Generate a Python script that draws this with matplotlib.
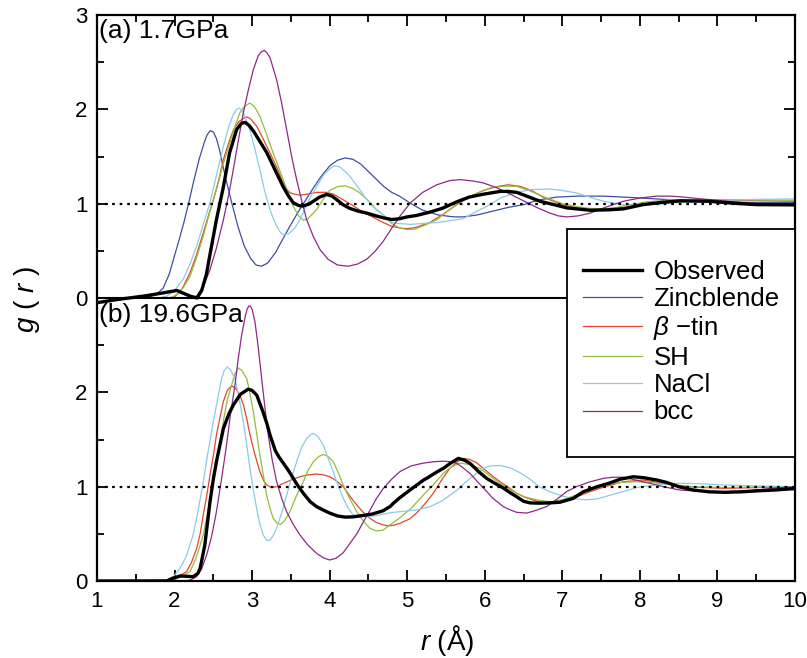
import matplotlib.pyplot as plt
from matplotlib.patches import Rectangle
from matplotlib.ticker import MultipleLocator

plt.rcParams['font.family'] = ['Liberation Sans', 'DejaVu Sans']
plt.rcParams['mathtext.fontset'] = 'custom'
plt.rcParams['mathtext.rm'] = 'Liberation Sans'
plt.rcParams['mathtext.it'] = 'Liberation Sans:italic'

# ---- (a) 1.7 GPa ----
obs_a_r = [1.0, 1.26, 1.6, 1.86, 2.03, 2.2, 2.29, 2.35, 2.41, 2.47, 2.54, 2.63, 2.71, 2.80, 2.86, 2.91,
           2.96, 3.02, 3.10, 3.19, 3.30, 3.40, 3.47, 3.53, 3.60, 3.66, 3.73, 3.79, 3.87, 3.96, 4.03,
           4.09, 4.17, 4.26, 4.37, 4.48, 4.58, 4.69, 4.80, 4.90, 5.0, 5.12, 5.29, 5.45, 5.64, 5.80,
           5.98, 6.2, 6.3, 6.41, 6.54, 6.71, 6.84, 7.06, 7.36, 7.6, 7.79, 8.04, 8.3, 8.52, 8.9, 9.2,
           9.5, 10.0]
obs_a_g = [-0.05, -0.016, 0.02, 0.055, 0.08, 0.02, 0.0, 0.08, 0.25, 0.52, 0.83, 1.18, 1.54, 1.785, 1.85,
           1.862, 1.83, 1.767, 1.66, 1.54, 1.35, 1.18, 1.08, 1.01, 0.98, 0.975, 0.995, 1.026, 1.07,
           1.098, 1.08, 1.043, 0.99, 0.95, 0.92, 0.9, 0.875, 0.85, 0.832, 0.84, 0.86, 0.875, 0.91,
           0.95, 1.02, 1.07, 1.1, 1.13, 1.13, 1.12, 1.08, 1.026, 1.0, 0.955, 0.93, 0.935, 0.945,
           0.99, 1.015, 1.03, 1.025, 1.005, 0.99, 0.987]

zb_a_r = [1.0, 1.5, 1.65, 1.75, 1.85, 1.93, 2.0, 2.06, 2.12, 2.18, 2.25, 2.32, 2.38, 2.42, 2.46, 2.5,
          2.54, 2.58, 2.65, 2.74, 2.82, 2.9, 2.98, 3.05, 3.12, 3.2, 3.3, 3.4, 3.5, 3.6, 3.7, 3.8,
          3.9, 4.0, 4.1, 4.2, 4.3, 4.4, 4.5, 4.6, 4.7, 4.8, 4.9, 5.05, 5.2, 5.4, 5.6, 5.72, 5.9,
          6.1, 6.3, 6.5, 6.7, 6.93, 7.2, 7.53, 7.9, 8.22, 8.6, 9.0, 9.5, 10.0]
zb_a_g = [0.0, 0.0, 0.01, 0.03, 0.1, 0.25, 0.45, 0.62, 0.8, 1.0, 1.25, 1.48, 1.64, 1.73, 1.774, 1.76,
          1.69, 1.57, 1.3, 1.0, 0.75, 0.55, 0.42, 0.35, 0.337, 0.37, 0.48, 0.63, 0.78, 0.92, 1.05,
          1.18, 1.3, 1.4, 1.46, 1.485, 1.47, 1.42, 1.34, 1.26, 1.18, 1.12, 1.08, 1.0, 0.93, 0.88,
          0.86, 0.86, 0.88, 0.92, 0.96, 0.99, 1.04, 1.07, 1.08, 1.08, 1.065, 1.05, 1.03, 1.02,
          1.01, 1.01]

tin_a_r = [1.0, 1.9, 2.0, 2.1, 2.2, 2.28, 2.37, 2.44, 2.5, 2.57, 2.63, 2.7, 2.76, 2.83, 2.9, 2.93, 2.98,
           3.06, 3.14, 3.23, 3.32, 3.4, 3.45, 3.49, 3.55, 3.62, 3.7, 3.83, 3.96, 4.05, 4.17, 4.3,
           4.43, 4.55, 4.69, 4.8, 4.92, 5.0, 5.1, 5.29, 5.45, 5.64, 5.8, 5.98, 6.15, 6.3, 6.45,
           6.6, 6.75, 6.84, 7.0, 7.18, 7.35, 7.53, 7.7, 7.87, 8.1, 8.43, 9.08, 9.5, 10.0]
tin_a_g = [0.0, 0.0, 0.01, 0.1, 0.27, 0.45, 0.69, 0.88, 1.04, 1.25, 1.47, 1.65, 1.785, 1.87, 1.91,
           1.92, 1.9, 1.82, 1.69, 1.54, 1.38, 1.22, 1.15, 1.115, 1.1, 1.09, 1.1, 1.12, 1.12, 1.1,
           1.043, 0.98, 0.91, 0.86, 0.80, 0.76, 0.74, 0.735, 0.745, 0.80, 0.88, 0.99, 1.07, 1.14,
           1.18, 1.2, 1.185, 1.14, 1.07, 1.04, 0.99, 0.955, 0.94, 0.94, 0.95, 0.97, 1.0, 1.03,
           1.04, 1.03, 1.025]

sh_a_r = [1.0, 1.95, 2.05, 2.12, 2.2, 2.28, 2.37, 2.45, 2.54, 2.62, 2.71, 2.78, 2.84, 2.9, 2.97, 3.03,
          3.1, 3.18, 3.27, 3.34, 3.4, 3.47, 3.53, 3.6, 3.66, 3.72, 3.83, 3.92, 4.0, 4.1, 4.2, 4.3,
          4.39, 4.5, 4.6, 4.69, 4.8, 4.9, 5.0, 5.1, 5.25, 5.38, 5.55, 5.72, 5.9, 6.07, 6.25, 6.41,
          6.6, 6.8, 7.0, 7.18, 7.35, 7.53, 7.7, 7.87, 8.1, 8.43, 9.08, 9.5, 10.0]
sh_a_g = [0.0, 0.0, 0.05, 0.12, 0.23, 0.42, 0.655, 0.9, 1.15, 1.4, 1.64, 1.82, 1.96, 2.03, 2.067,
          2.03, 1.926, 1.75, 1.54, 1.39, 1.255, 1.1, 0.973, 0.87, 0.824, 0.84, 0.937, 1.05, 1.14,
          1.18, 1.19, 1.16, 1.114, 1.03, 0.94, 0.88, 0.79, 0.743, 0.725, 0.73, 0.78, 0.83, 0.94,
          1.04, 1.11, 1.167, 1.185, 1.185, 1.13, 1.06, 1.0, 0.97, 0.95, 0.945, 0.96, 0.99, 1.02,
          1.043, 1.043, 1.04, 1.036]

nacl_a_r = [1.0, 1.8, 1.9, 2.0, 2.11, 2.2, 2.285, 2.37, 2.457, 2.54, 2.63, 2.7, 2.76, 2.8, 2.835, 2.87,
            2.9, 2.97, 3.03, 3.1, 3.16, 3.23, 3.3, 3.36, 3.4, 3.47, 3.55, 3.617, 3.7, 3.76, 3.832,
            3.92, 4.0, 4.06, 4.13, 4.2, 4.26, 4.37, 4.48, 4.58, 4.69, 4.8, 4.9, 5.04, 5.2, 5.38,
            5.55, 5.72, 5.85, 6.07, 6.2, 6.41, 6.6, 6.84, 7.0, 7.18, 7.35, 7.53, 7.7, 7.87, 8.1,
            8.43, 9.08, 9.5, 10.0]
nacl_a_g = [0.0, 0.0, 0.02, 0.08, 0.196, 0.36, 0.55, 0.78, 1.01, 1.3, 1.608, 1.82, 1.95, 2.0, 2.014,
            1.99, 1.94, 1.785, 1.6, 1.36, 1.14, 0.937, 0.79, 0.7, 0.672, 0.68, 0.74, 0.83, 0.98,
            1.08, 1.18, 1.3, 1.37, 1.4, 1.39, 1.34, 1.29, 1.17, 1.04, 0.95, 0.88, 0.8, 0.79, 0.78,
            0.79, 0.8, 0.82, 0.84, 0.9, 0.99, 1.06, 1.12, 1.15, 1.155, 1.14, 1.114, 1.07, 1.026,
            1.0, 0.98, 0.99, 1.008, 1.036, 1.045, 1.05]

bcc_a_r = [1.0, 2.1, 2.2, 2.285, 2.37, 2.457, 2.54, 2.63, 2.7, 2.757, 2.82, 2.886, 2.95, 3.015, 3.08,
           3.12, 3.157, 3.19, 3.23, 3.316, 3.38, 3.445, 3.51, 3.574, 3.64, 3.703, 3.79, 3.875, 3.98,
           4.1, 4.24, 4.36, 4.476, 4.58, 4.69, 4.8, 4.906, 5.04, 5.2, 5.38, 5.55, 5.68, 5.85, 5.98,
           6.15, 6.33, 6.5, 6.67, 6.84, 6.95, 7.06, 7.2, 7.36, 7.55, 7.79, 8.0, 8.22, 8.4, 8.56,
           8.8, 9.08, 9.5, 10.0]
bcc_a_g = [0.0, 0.0, 0.005, 0.02, 0.12, 0.3, 0.53, 0.83, 1.1, 1.36, 1.66, 1.96, 2.2, 2.42, 2.57,
           2.61, 2.625, 2.6, 2.55, 2.314, 2.07, 1.785, 1.5, 1.255, 1.03, 0.83, 0.65, 0.514, 0.41,
           0.35, 0.337, 0.36, 0.41, 0.49, 0.6, 0.74, 0.867, 1.008, 1.12, 1.2, 1.245, 1.255, 1.24,
           1.22, 1.17, 1.1, 1.03, 0.96, 0.9, 0.87, 0.86, 0.87, 0.9, 0.96, 1.026, 1.06, 1.08, 1.08,
           1.07, 1.05, 1.03, 1.0, 1.0]

# ---- (b) 19.6 GPa ----
obs_b_r = [1.0, 1.9, 1.98, 2.07, 2.15, 2.24, 2.3, 2.33, 2.39, 2.457, 2.5, 2.54, 2.6, 2.63, 2.7, 2.757,
           2.85, 2.95, 3.0, 3.06, 3.14, 3.19, 3.23, 3.3, 3.35, 3.445, 3.5, 3.574, 3.66, 3.75, 3.832,
           3.918, 4.0, 4.1, 4.2, 4.3, 4.434, 4.55, 4.69, 4.78, 4.82, 4.9, 5.036, 5.21, 5.25, 5.37,
           5.465, 5.56, 5.66, 5.74, 5.81, 5.92, 6.024, 6.1, 6.24, 6.32, 6.41, 6.5, 6.583, 6.7,
           6.84, 6.97, 7.14, 7.27, 7.45, 7.614, 7.75, 7.915, 8.05, 8.22, 8.345, 8.5, 8.69, 8.9,
           9.1, 9.3, 9.5, 9.75, 10.0]
obs_b_g = [0.0, 0.0, 0.03, 0.053, 0.05, 0.046, 0.08, 0.135, 0.38, 0.84, 1.08, 1.265, 1.5, 1.618,
           1.77, 1.865, 1.98, 2.034, 2.02, 1.97, 1.794, 1.67, 1.55, 1.38, 1.31, 1.2, 1.13, 1.03,
           0.93, 0.84, 0.788, 0.752, 0.72, 0.69, 0.677, 0.68, 0.695, 0.71, 0.745, 0.79, 0.823,
           0.88, 0.965, 1.07, 1.088, 1.15, 1.194, 1.25, 1.30, 1.28, 1.247, 1.16, 1.088, 1.05,
           0.985, 0.94, 0.894, 0.845, 0.828, 0.825, 0.828, 0.835, 0.876, 0.946, 1.0, 1.04, 1.08,
           1.105, 1.095, 1.07, 1.045, 1.0, 0.964, 0.945, 0.94, 0.945, 0.955, 0.965, 0.98]

tin_b_r = [1.0, 1.94, 2.05, 2.156, 2.22, 2.285, 2.33, 2.37, 2.42, 2.457, 2.5, 2.54, 2.59, 2.628, 2.68,
           2.736, 2.79, 2.843, 2.89, 2.93, 2.97, 3.015, 3.06, 3.1, 3.15, 3.19, 3.25, 3.32, 3.402,
           3.5, 3.617, 3.72, 3.832, 3.92, 4.0, 4.09, 4.175, 4.26, 4.35, 4.43, 4.52, 4.6, 4.69,
           4.75, 4.82, 4.906, 5.036, 5.12, 5.21, 5.336, 5.45, 5.55, 5.64, 5.724, 5.8, 5.895, 6.0,
           6.11, 6.2, 6.325, 6.41, 6.54, 6.7, 6.84, 7.01, 7.18, 7.356, 7.55, 7.79, 8.04, 8.2,
           8.43, 8.7, 9.08, 9.5, 10.0]
tin_b_g = [0.0, 0.01, 0.05, 0.1, 0.2, 0.346, 0.5, 0.7, 0.93, 1.123, 1.33, 1.547, 1.75, 1.9, 2.02,
           2.07, 2.04, 1.97, 1.86, 1.723, 1.56, 1.406, 1.27, 1.16, 1.06, 1.017, 0.99, 1.0, 1.035,
           1.07, 1.106, 1.125, 1.134, 1.125, 1.106, 1.06, 1.0, 0.9, 0.805, 0.73, 0.664, 0.62,
           0.594, 0.585, 0.59, 0.611, 0.66, 0.72, 0.80, 0.93, 1.08, 1.194, 1.26, 1.30, 1.29,
           1.254, 1.18, 1.106, 1.05, 0.982, 0.93, 0.88, 0.84, 0.83, 0.84, 0.89, 0.947, 1.0, 1.053,
           1.07, 1.05, 1.018, 0.995, 0.982, 0.99, 1.0]

sh_b_r = [1.0, 1.984, 2.1, 2.2, 2.28, 2.37, 2.44, 2.5, 2.56, 2.628, 2.68, 2.736, 2.78, 2.822, 2.87,
          2.93, 2.97, 3.015, 3.06, 3.1, 3.15, 3.187, 3.23, 3.273, 3.32, 3.367, 3.42, 3.488, 3.57,
          3.66, 3.72, 3.79, 3.86, 3.918, 3.98, 4.047, 4.11, 4.175, 4.26, 4.35, 4.43, 4.52, 4.605,
          4.69, 4.777, 4.906, 5.05, 5.208, 5.336, 5.465, 5.57, 5.68, 5.8, 5.938, 6.07, 6.196,
          6.3, 6.41, 6.5, 6.67, 6.84, 7.0, 7.18, 7.37, 7.57, 7.75, 7.96, 8.2, 8.43, 8.7, 9.08,
          9.5, 10.0]
sh_b_g = [0.0, 0.01, 0.05, 0.1, 0.25, 0.487, 0.78, 1.05, 1.35, 1.688, 1.92, 2.077, 2.2, 2.26, 2.23,
          2.147, 2.0, 1.794, 1.56, 1.335, 1.1, 0.911, 0.77, 0.664, 0.615, 0.60, 0.64, 0.735, 0.9,
          1.052, 1.17, 1.264, 1.32, 1.342, 1.32, 1.264, 1.15, 1.017, 0.87, 0.735, 0.64, 0.558,
          0.53, 0.54, 0.594, 0.67, 0.77, 0.91, 1.02, 1.14, 1.21, 1.25, 1.235, 1.194, 1.11, 1.035,
          0.98, 0.93, 0.894, 0.86, 0.84, 0.86, 0.912, 0.97, 1.018, 1.045, 1.053, 1.04, 1.018, 1.0,
          0.99, 0.995, 1.0]

nacl_b_r = [1.0, 1.9, 2.0, 2.07, 2.15, 2.24, 2.3, 2.37, 2.43, 2.5, 2.56, 2.607, 2.64, 2.68, 2.72,
            2.779, 2.83, 2.886, 2.93, 2.972, 3.015, 3.058, 3.1, 3.144, 3.187, 3.23, 3.27, 3.316,
            3.38, 3.445, 3.51, 3.574, 3.64, 3.703, 3.76, 3.79, 3.85, 3.918, 3.98, 4.047, 4.11,
            4.175, 4.24, 4.304, 4.39, 4.476, 4.58, 4.69, 4.8, 4.906, 5.12, 5.3, 5.45, 5.637, 5.77,
            5.895, 6.0, 6.067, 6.2, 6.325, 6.45, 6.583, 6.7, 6.84, 7.0, 7.1, 7.3, 7.45, 7.66, 7.79,
            7.96, 8.22, 8.43, 8.65, 9.08, 9.5, 10.0]
nacl_b_g = [0.0, 0.01, 0.06, 0.134, 0.26, 0.487, 0.73, 1.05, 1.36, 1.688, 1.95, 2.147, 2.23, 2.27,
            2.24, 2.147, 1.95, 1.688, 1.45, 1.194, 0.97, 0.77, 0.6, 0.488, 0.43, 0.43, 0.48, 0.558,
            0.72, 0.911, 1.1, 1.264, 1.42, 1.51, 1.555, 1.565, 1.53, 1.44, 1.3, 1.158, 1.01, 0.876,
            0.77, 0.70, 0.685, 0.682, 0.69, 0.71, 0.725, 0.735, 0.753, 0.79, 0.85, 0.96, 1.06,
            1.14, 1.2, 1.22, 1.225, 1.2, 1.15, 1.08, 1.0, 0.947, 0.9, 0.88, 0.86, 0.87, 0.92, 0.95,
            0.99, 1.02, 1.035, 1.035, 1.018, 1.008, 1.0]

bcc_b_r = [1.0, 2.11, 2.2, 2.285, 2.35, 2.414, 2.48, 2.54, 2.6, 2.67, 2.72, 2.779, 2.82, 2.865, 2.91,
           2.935, 2.959, 2.98, 3.0, 3.037, 3.08, 3.123, 3.165, 3.208, 3.26, 3.316, 3.38, 3.445,
           3.53, 3.617, 3.72, 3.832, 3.92, 4.0, 4.08, 4.175, 4.262, 4.35, 4.45, 4.52, 4.6, 4.69,
           4.8, 4.906, 5.05, 5.208, 5.35, 5.465, 5.55, 5.637, 5.72, 5.81, 5.92, 6.024, 6.1, 6.24,
           6.325, 6.41, 6.54, 6.626, 6.7, 6.8, 6.95, 7.06, 7.18, 7.35, 7.53, 7.65, 7.79, 7.95,
           8.13, 8.3, 8.52, 8.8, 9.08, 9.3, 9.5, 9.75, 10.0]
bcc_b_g = [0.0, 0.0, 0.01, 0.046, 0.13, 0.276, 0.48, 0.735, 1.05, 1.44, 1.76, 2.077, 2.35, 2.606,
           2.8, 2.88, 2.917, 2.91, 2.88, 2.748, 2.47, 2.147, 1.84, 1.547, 1.28, 1.053, 0.88, 0.735,
           0.6, 0.488, 0.38, 0.293, 0.245, 0.223, 0.24, 0.3, 0.4, 0.5, 0.65, 0.75, 0.87, 0.98,
           1.08, 1.16, 1.22, 1.25, 1.265, 1.27, 1.265, 1.25, 1.2, 1.14, 1.04, 0.95, 0.88, 0.788,
           0.755, 0.728, 0.72, 0.74, 0.76, 0.79, 0.88, 0.95, 1.0, 1.05, 1.088, 1.1, 1.1, 1.07,
           1.035, 1.0, 0.964, 0.95, 0.947, 0.952, 0.964, 0.985, 1.0]

labels = ['Observed', 'Zincblende', r'$\beta$ −tin', 'SH', 'NaCl', 'bcc']
colors = ['black', '#3c4ea6', '#e2462c', '#92bd3c', '#8ccbe4', '#8c2a86']
top_offset = 3.0  # panel (a) sits on top of panel (b)

fig = plt.figure(figsize=(8.07, 6.58), dpi=100)
ax = fig.add_axes([97 / 807, 1 - 581 / 658, 698 / 807, 566 / 658])

# panel (a)
top_sets = [(zb_a_r, zb_a_g), (tin_a_r, tin_a_g), (sh_a_r, sh_a_g),
            (nacl_a_r, nacl_a_g), (bcc_a_r, bcc_a_g)]
handles = []
for (r, g), c, lab in zip(top_sets, colors[1:], labels[1:]):
    h, = ax.plot(r, [v + top_offset for v in g], color=c, lw=0.9, label=lab)
    handles.append(h)
h_obs, = ax.plot(obs_a_r, [v + top_offset for v in obs_a_g], color='black', lw=2.4,
                 label=labels[0])
handles.insert(0, h_obs)

# panel (b)
bot_sets = [(tin_b_r, tin_b_g, colors[2]), (sh_b_r, sh_b_g, colors[3]),
            (nacl_b_r, nacl_b_g, colors[4]), (bcc_b_r, bcc_b_g, colors[5])]
for r, g, c in bot_sets:
    ax.plot(r, g, color=c, lw=0.9)
ax.plot(obs_b_r, obs_b_g, color='black', lw=2.4)

# reference lines
ax.axhline(top_offset, color='black', lw=1.5)
ax.axhline(1.0, color='black', lw=1.6, ls=(0, (1.2, 2.2)))
ax.axhline(1.0 + top_offset, color='black', lw=1.6, ls=(0, (1.2, 2.2)))

ax.set_xlim(1, 10)
ax.set_ylim(0, 6)
ax.set_xticks(range(1, 11))
ax.xaxis.set_minor_locator(MultipleLocator(0.5))
ax.set_yticks([0, 1, 2, 3, 4, 5, 6])
ax.set_yticklabels(['0', '1', '2', '0', '1', '2', '3'])
ax.yaxis.set_minor_locator(MultipleLocator(0.5))
ax.tick_params(which='both', direction='in', top=True, right=True, width=1.3)
ax.tick_params(which='major', length=8, labelsize=16, pad=7)
ax.tick_params(which='minor', length=5)
for s in ax.spines.values():
    s.set_linewidth(1.6)

ax.text(1.03, 5.96, '(a) 1.7GPa', fontsize=19, va='top', ha='left')
ax.text(1.03, 2.95, '(b) 19.6GPa', fontsize=19, va='top', ha='left')

fig.text(447 / 807, 1 - 640 / 658, '$r$ (Å)', fontsize=20, ha='center', va='center')
fig.text(27 / 807, 1 - 300 / 658, '$g$ ( $r$ )', fontsize=20, ha='center', va='center',
         rotation=90)

# legend box
ax.add_patch(Rectangle((0.673, 0.219), 0.327, 0.403, transform=ax.transAxes,
                       facecolor='white', edgecolor='black', lw=1.3, zorder=5))
leg = ax.legend(handles=handles, loc='center left', bbox_to_anchor=(0.696, 0.422),
                frameon=False, fontsize=18.5, handlelength=2.3, handletextpad=0.45,
                labelspacing=0.13, borderpad=0, borderaxespad=0)
leg.set_zorder(6)

fig.savefig('out.png', dpi=100)
